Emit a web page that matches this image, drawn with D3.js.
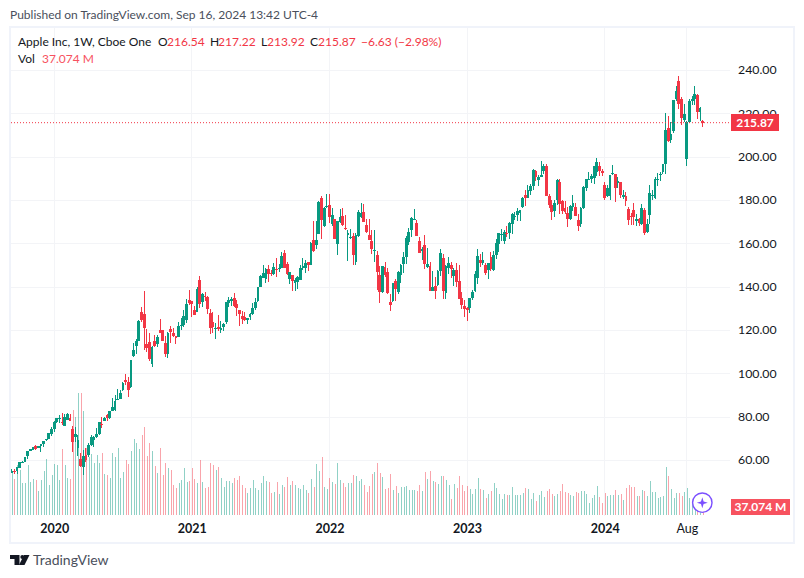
<!DOCTYPE html>
<html lang="en">
<head>
<meta charset="utf-8">
<title>Apple Inc, 1W</title>
<script src="https://cdn.jsdelivr.net/npm/d3@7"></script>
<style>
  html, body { margin: 0; background: #fff; }
  svg { display: block; }
  text { font-family: Lato, sans-serif; font-size: 12px; fill: #131722; }
</style>
</head>
<body>
<div id="chart"></div>
<script>
// weekly bars, 16 Sep 2019 to 16 Sep 2024
const opens = [
  54.4,55.3,55.2,56.6,59,59.4,61.9,64.3,65,66.5,65.7,66.8,67.5,69.2,70.1,72.4,
  74.3,77.9,79.3,77.5,76,78.5,79.6,74.3,70.6,65.9,60.5,57,62.7,62.7,67,69.5,70.6,72.3,77,78.3,80.9,79.4,83,83.3,87.8,88.3,92.5,97.3,96.4,93.7,108.2,112.6,115,128.7,127.6,113.9,114.7,104.5,115,113.9,120,119.96,114,109.1,120.5,118.9,117.2,116.97,122.3,122.6,125,133.99,
  133.5,129.2,128.7,143.07,133.15,136,135.5,128,123.75,120.9,121.4,120.3,121.65,123.9,132.5,133.5,134.8,132,129.4,126.8,126,125,126.2,127.8,130.3,133.4,140,144.4,143.75,148.27,146.4,146.2,148.5,148.3,149,155.5,150.6,143.8,145.47,141.8,142.3,143.45,148.7,148.99,151.4,150.4,161.7,159.4,164.3,181,168.3,177,
  177.8,169,171.5,160,170.2,172.9,167.4,164,163,163.4,151.45,163.5,172.2,174.6,168.7,163.9,161.1,156.7,154.9,145.55,137.8,149.07,147,132.9,133.4,142.7,137.8,145.7,150.7,154,161,166.4,171.5,169.7,161.1,156.5,159.6,149.3,149.7,138.2,140.4,141,147.2,153.2,137.1,148.97,150.2,145.1,147.8,142.7,135.1,131.4,
  130.3,130.5,135,138.1,144,152.6,150.9,150.1,147.7,153.8,147.8,155,159.9,164.3,161.4,165.1,165,169.3,172.5,173.2,173.98,176.96,182.6,181.3,184.4,186.8,193.8,189.3,191,193.4,196,182.1,177.97,175,180,188.3,179.5,176.5,174.2,171.2,176.8,176.75,170.9,169,176.4,185.8,189.9,189.8,190.2,193.1,196.1,193.6,
  187.15,182.1,182.2,192.3,192,188,188.4,181.8,182.2,176.15,172.9,175.6,170.6,171.2,169,175.4,165.5,173.4,182.35,181.3,189.3,191.5,192.9,196.9,213.4,207.7,212,227,235,227,216.96,199.1,216,225.7,226.76,228.5,220.8,216.54
];
const highs = [
  55.9,55.9,56.9,59.4,59.5,61.7,64.4,65.1,66.4,67,66.8,67.8,68.8,70,72.5,75.2,
  78.2,79.7,80.8,81.96,81.3,81.8,81.2,76,75.4,71.6,63.2,64.7,65.6,67.9,71.6,71.4,74.75,77.6,79.9,80.2,81.4,82.9,88.7,90,93.1,92.6,96.3,99.95,98.5,106.4,114.4,116,124.9,131,137.98,120.5,119,112.9,117.7,117.7,125.2,120.4,117.3,119.2,121.99,120.99,117.6,123.8,125.95,129.6,134.4,138.8,
  133.6,131.45,139.85,145.09,137.4,137.9,136,129.7,128.7,123.2,127.2,124.2,123.5,133,135.5,135.5,137.07,134,129.5,129,128.3,125.9,128,132.5,135,140,145.65,150,148.7,150,147.8,151.2,153.5,150.86,156,157.26,151.4,147.1,145.7,144.2,144.9,150.18,153.2,152.4,151.6,161,170.3,170.3,179.6,182.1,176.85,182.9,
  182.9,176.6,171.5,170.35,176.2,176.65,173.3,166.15,167,165,165,175.7,179,178.5,171.3,171.3,166.2,166.5,156.74,149.7,149.7,151.7,149,137,141.9,143.5,147.55,150.86,156.3,163.6,167.2,172.17,176.15,171,162.9,158.4,164.26,158.1,151.8,147.5,144.5,147.85,157.5,155.45,150,153.8,151.8,148.8,150.9,149.97,137.85,134,
  130.9,134.9,138.6,147.2,157.38,155.2,156.3,151.3,151.1,156.3,156.75,162,165,166.8,166.3,168.2,169.85,174.3,174.6,176.4,175.8,181.8,184.95,186.99,187.56,194.48,193.88,191.7,198.23,197,196.7,183.1,180,180,190,189.98,180.3,179.7,177.1,177.99,182.3,179,173.7,177,186.6,190,192.9,192.3,195,199.6,197.7,194.7,
  188.4,187,191.95,196.4,192.2,191,188.67,185,184,176.9,174.4,178.67,173.6,171.9,178.36,176.6,171.3,187,184.9,191,192.8,193,196.9,220.2,218.95,216.07,226.45,232.9,237.23,227.78,224.5,216.78,226.8,228.34,232.92,229,223,217.22
];
const lows = [
  54.4,53.8,53.8,56.4,58.7,59.3,60.6,64.2,64.6,64.9,65.6,64.1,66.2,69,70,71.3,
  73.2,77.4,77.1,76.22,75.8,78.5,78.3,64.1,68.5,62,57,53.15,59.2,61.4,66.5,66.4,70.3,71.6,75.05,78,78.3,79.3,83,83,87.8,88.3,92,94.7,89.1,93.2,107.9,109,114.9,123.9,110.9,110,106.1,103.1,112.2,112.25,118.8,114.9,107.7,107.3,114.1,116.8,113.8,116.8,120.2,121.5,123.4,131.7,
  126.4,126.9,128.6,130.2,130.9,133.7,127.4,118.4,118.6,116.2,119.7,118.9,119.9,123,130.6,131.3,131,126.7,122.25,122.8,124.2,123,125,127.1,129.2,133.3,140,144,141.67,142.5,145.2,145.5,144.5,147.1,149,148.7,145.8,141.3,138.3,138.27,139.2,143.2,147.7,146.4,147.5,150,156.4,157.8,164.3,162.3,167.5,176.3,
  169.7,168.2,162.3,154.7,169.5,168,166.2,152,162,150.1,150,163,172,169.9,165,161.5,155.4,151.5,138.8,132.6,137.1,144.5,137,129,133,133.8,136.9,142.1,146.7,150.8,159.6,163.25,171.3,163.6,155.8,152.7,148.4,149,138,138,134.4,140.3,144.9,134.4,134.4,146,144,140.4,140,134.4,129.8,126,
  124.17,128,134,137.9,141.3,149.2,150,145.7,143.9,147.6,147.6,153,155.98,161.3,159.8,162.9,162,164.3,171,170.4,170.5,176.6,177.3,180.97,182.6,185,189,186.6,191,192.3,181.9,176.5,171,172.5,178,173.5,173.6,173.7,167.6,170.8,175.2,172.6,165.7,167.9,176.2,184.2,189.3,188.2,187.5,191.4,191.3,191.1,
  180.2,181.5,180.3,191.7,179.25,185.6,181,180.8,177.38,168.5,168.7,168.5,168.2,168.2,168.6,164,165,169.1,180.4,180.7,186.6,189.1,192,192,207.11,206.6,211,226,222.3,214.6,216,196,215.6,223.9,223.9,217.48,216.7,213.92
];
const closes = [
  54.9,54.7,56.8,59.05,59.1,61.6,64.4,65.05,66.3,65.4,66.8,67.7,68.8,69.9,72.45,74.35,
  77.6,79.7,79.6,77.38,80,81.2,78.3,68.3,72.3,69.5,57.3,61.9,60.35,66.99,70.7,70.7,72.3,77.5,76.93,79.7,79.5,82.9,84.7,87.4,88.4,91,95.9,96.3,92.6,106.3,111.1,114.9,124.4,124.8,120.96,112,106.8,112.3,113,116.97,119,115,108.9,118.7,119.3,117.3,116.6,122.25,122.4,126.65,131.97,132.7,
  132.05,127.1,139.07,131.96,136.76,135.37,129.87,121.26,121.4,121,120.5,121.2,123,133,134.16,134.3,131.46,130.2,127.45,125.4,124.6,125.9,127.35,130.5,133.1,139.96,145.1,146.4,148.56,145.86,146.14,149.1,148.2,148.6,154.3,148.97,146.06,146.9,142.65,143.3,144.84,148.7,149.8,151.28,149.99,160.55,156.8,161.84,179.45,171.14,176.28,177.57,
  172.17,173.07,162.4,170.33,172.39,168.64,167.3,164.85,163.2,154.7,163.98,174.72,174.3,170,165.3,161.8,157.65,157.3,147.1,137.6,149.64,145.38,137.13,131.56,141.66,138.93,147.04,150.17,154.09,162.5,165.35,172.1,171.52,163.6,155.8,157.37,150.7,150.43,138.2,140.09,138.38,147.27,155.74,138.38,149.7,151.29,148.11,147.81,142.16,134.51,131.86,129.93,
  129.62,134.76,137.87,145.93,154.5,151,152.55,146.71,151.03,148.5,155,160.25,164.9,164.66,165.21,165.02,169.68,173.57,172.57,175.16,175.43,180.95,180.96,184.92,186.68,193.97,190.68,190.69,191.94,195.83,181.99,177.79,174.49,178.61,189.46,178.18,175.01,174.79,171.21,177.49,178.85,172.88,168.22,176.65,186.4,189.69,189.97,191.24,195.71,197.57,193.6,192.53,
  181.18,185.92,191.56,192.42,185.85,188.85,182.31,182.52,179.66,170.73,172.62,172.28,171.48,169.58,176.55,165,169.3,183.38,182.4,189.87,189.98,192.25,196.89,212.49,207.49,210.62,226.34,230.54,224.31,217.96,219.86,216.24,226.05,226.84,229,220.82,222.5,215.87
];
// millions of shares
const volumes = [
  520,430,600,540,390,380,600,400,430,420,290,420,530,670,360,480,
  610,600,420,795,600,450,430,1260,1180,1470,1470,1250,800,700,730,620,720,620,750,490,480,450,750,700,800,450,515,660,610,770,910,860,790,960,1055,710,860,770,590,510,800,480,630,570,540,360,330,390,420,560,400,410,
  560,430,390,660,400,330,340,620,600,540,575,450,340,410,410,380,450,420,470,360,330,270,320,420,320,300,390,470,410,400,270,280,400,250,360,340,460,360,410,360,320,310,360,300,265,430,340,610,530,700,340,310,
  445,400,375,630,420,390,340,390,390,480,470,410,430,360,280,350,495,515,630,510,455,310,325,495,300,350,265,335,335,350,300,300,300,290,360,290,515,430,530,410,395,370,470,470,420,360,190,370,325,470,360,290,
  350,310,250,310,445,310,300,205,250,290,385,325,250,190,250,240,240,335,240,240,240,265,325,310,190,265,170,240,290,215,290,310,250,225,250,290,370,275,265,240,225,275,265,290,290,250,145,205,240,350,215,145,
  265,225,240,240,300,240,250,180,325,360,335,335,225,225,300,290,225,410,275,275,205,215,225,575,470,310,205,265,265,225,275,325,205,160,180,170,190,37.074
];
const priceTicks = [60, 80, 100, 120, 140, 160, 180, 200, 220, 240];
const timeTickIndex = [16, 68, 120, 172, 224, 255];
const timeTickLabels = ["2020", "2021", "2022", "2023", "2024", "Aug"];

const upColor = "#089981", downColor = "#F23645", gridColor = "#F3F4F7", frameColor = "#F0F3FA";

const svg = d3.select("#chart").append("svg").attr("width", 804).attr("height", 578);

const x = d3.scaleLinear().domain([0, opens.length - 1]).range([11.8, 702.7]);
const y = d3.scaleLinear().domain([60, 240]).range([460.4, 70.4]);
const yVol = d3.scaleLinear().domain([0, 1464]).range([515, 393]);
const isUp = i => closes[i] >= opens[i];

// grid
const grid = svg.append("g").attr("shape-rendering", "crispEdges").attr("stroke", gridColor);
grid.selectAll(".gy").data(priceTicks).join("line")
  .attr("x1", 11).attr("x2", 730).attr("y1", d => y(d)).attr("y2", d => y(d));
grid.selectAll(".gx").data(timeTickIndex).join("line")
  .attr("x1", d => x(d)).attr("x2", d => x(d)).attr("y1", 28).attr("y2", 516);

// volume
svg.append("g").attr("shape-rendering", "crispEdges")
  .selectAll("rect").data(volumes).join("rect")
  .attr("x", (d, i) => Math.round(x(i)) - 0.5)
  .attr("y", d => yVol(d))
  .attr("width", 1)
  .attr("height", d => 515 - yVol(d))
  .attr("fill", (d, i) => isUp(i) ? upColor : downColor)
  .attr("fill-opacity", 0.45);

// candles
const candles = svg.append("g").attr("shape-rendering", "crispEdges");
candles.selectAll(".wick").data(opens).join("rect")
  .attr("x", (d, i) => x(i) - 0.5)
  .attr("width", 1)
  .attr("y", (d, i) => y(highs[i]))
  .attr("height", (d, i) => y(lows[i]) - y(highs[i]))
  .attr("fill", (d, i) => isUp(i) ? upColor : downColor);
candles.selectAll(".body").data(opens).join("rect")
  .attr("x", (d, i) => x(i) - 1.4)
  .attr("width", 2.8)
  .attr("y", (d, i) => y(Math.max(d, closes[i])))
  .attr("height", (d, i) => Math.max(1, Math.abs(y(d) - y(closes[i]))))
  .attr("fill", (d, i) => isUp(i) ? upColor : downColor);

// last price line
const lastClose = closes[closes.length - 1];
svg.append("line").attr("x1", 11).attr("x2", 731)
  .attr("y1", y(lastClose)).attr("y2", y(lastClose))
  .attr("stroke", downColor).attr("stroke-dasharray", "1 2");

// frame
svg.append("rect").attr("x", 10).attr("y", 27).attr("width", 784).attr("height", 516)
  .attr("fill", "none").attr("stroke", frameColor).attr("stroke-width", 2);

// axes
const yAxis = d3.axisRight(y).tickValues(priceTicks).tickFormat(d3.format(".2f")).tickSize(0).tickPadding(7);
svg.append("g").attr("transform", "translate(731,-0.4)").call(yAxis)
  .call(g => g.select(".domain").remove())
  .selectAll("text").style("font-size", "12.3px").attr("font-family", null);

const xAxis = d3.axisBottom(x).tickValues(timeTickIndex).tickFormat((d, i) => timeTickLabels[i]).tickSize(0).tickPadding(7);
svg.append("g").attr("transform", "translate(0,517)").call(xAxis)
  .call(g => g.select(".domain").remove())
  .selectAll("text").style("font-size", "12.5px").attr("font-family", null)
  .style("font-weight", (d, i) => i < 5 ? 700 : 400);

// price and volume labels
svg.append("rect").attr("x", 731).attr("y", 114).attr("width", 48).attr("height", 17).attr("fill", downColor);
svg.append("text").attr("x", 755).attr("y", 122.4).attr("dy", "0.35em").attr("text-anchor", "middle")
  .style("fill", "#fff").style("font-weight", 700).text(d3.format(".2f")(lastClose));
svg.append("rect").attr("x", 731).attr("y", 499).attr("width", 59).attr("height", 16).attr("fill", "#F7525F");
svg.append("text").attr("x", 760.5).attr("y", 507).attr("dy", "0.35em").attr("text-anchor", "middle")
  .style("fill", "#fff").style("font-weight", 700).text("37.074 M");

// publish line and legend
svg.append("text").attr("x", 10).attr("y", 19).style("fill", "#4A4F5C").text("Published on TradingView.com, Sep 16, 2024 13:42 UTC-4");
const legend = [
  [18, "Apple Inc, 1W, Cboe One", "#131722"], [158, "O", "#131722"], [167, "216.54", downColor],
  [210, "H", "#131722"], [218, "217.22", downColor], [261, "L", "#131722"], [267, "213.92", downColor],
  [310, "C", "#131722"], [318, "215.87", downColor], [361, "\u22126.63 (\u22122.98%)", downColor]
];
svg.append("g").selectAll("text").data(legend).join("text")
  .attr("x", d => d[0]).attr("y", 46).style("fill", d => d[2]).text(d => d[1]);
svg.append("text").attr("x", 18).attr("y", 63).style("fill", "#131722").text("Vol");
svg.append("text").attr("x", 42).attr("y", 63).style("fill", "#F7525F").text("37.074 M");

// go-to-live marker
const marker = svg.append("g").attr("transform", "translate(702.3,502.7)");
marker.append("circle").attr("r", 9.7).attr("fill", "#fff").attr("stroke", "#7B4FFF").attr("stroke-width", 1.4);
marker.append("path").attr("fill", "#7B4FFF").attr("d", "M0-5.5L1.3-1.3L5.5 0L1.3 1.3L0 5.5L-1.3 1.3L-5.5 0L-1.3-1.3Z");

// logo
const logo = svg.append("g").attr("fill", "#131722");
logo.append("path").attr("d", "M10 555H19.5V565H14.5V559H10Z");
logo.append("circle").attr("cx", 22.3).attr("cy", 557).attr("r", 2);
logo.append("path").attr("d", "M24 555H29.5L24.5 565H19Z");
svg.append("text").attr("x", 33).attr("y", 565).style("fill", "#4A4F5C").style("font-size", "14px").text("TradingView");
</script>
</body>
</html>
